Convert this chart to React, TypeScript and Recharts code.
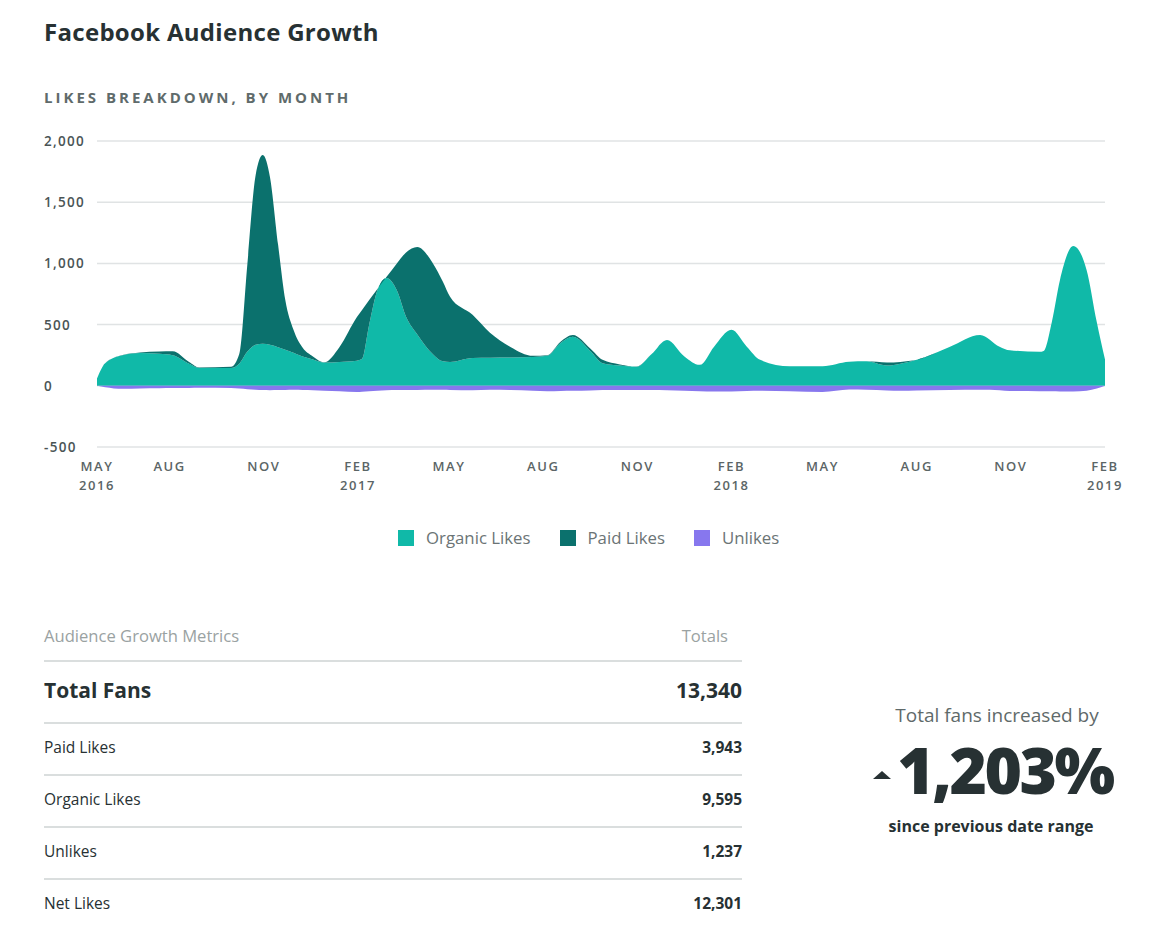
import { Area, AreaChart, CartesianGrid, XAxis, YAxis } from "recharts";

// Sample dates and the three series
const dates = [
  "2016-05-22", "2016-05-30", "2016-06-16", "2016-07-03", "2016-07-22", "2016-08-04",
  "2016-08-20", "2016-08-30", "2016-09-30", "2016-10-08", "2016-10-16", "2016-10-24",
  "2016-10-31", "2016-11-07", "2016-11-15", "2016-11-22", "2016-11-30", "2016-12-09",
  "2016-12-19", "2016-12-30", "2017-01-14", "2017-01-31", "2017-02-05", "2017-02-12",
  "2017-02-20", "2017-03-01", "2017-03-11", "2017-03-20", "2017-03-31", "2017-04-15",
  "2017-04-25", "2017-05-02", "2017-05-24", "2017-06-10", "2017-06-30", "2017-07-22",
  "2017-08-05", "2017-08-18", "2017-08-30", "2017-09-16", "2017-09-28", "2017-10-15",
  "2017-10-31", "2017-11-15", "2017-11-30", "2017-12-17", "2018-01-01", "2018-01-15",
  "2018-02-01", "2018-02-16", "2018-03-01", "2018-03-30", "2018-05-01", "2018-05-27",
  "2018-06-13", "2018-07-03", "2018-07-16", "2018-08-01", "2018-09-02", "2018-10-02",
  "2018-10-21", "2018-10-31", "2018-11-29", "2018-12-03", "2018-12-11", "2018-12-19",
  "2019-01-01", "2019-01-14", "2019-01-24", "2019-02-01",
];

const organicLikes = [
  60, 185, 250, 268, 262, 250,
  180, 145, 145, 180, 280, 335,
  343, 335, 315, 295, 270, 240,
  215, 190, 195, 205, 220, 500,
  780, 880, 780, 565, 420, 260,
  200, 195, 228, 230, 232, 236,
  245, 350, 400, 285, 185, 165,
  155, 260, 375, 240, 171, 320,
  457, 320, 212, 160, 160, 196,
  200, 165, 180, 212, 318, 416,
  320, 290, 278, 285, 520, 865,
  1143, 947, 520, 215,
];

const paidLikes = [
  0, 0, 2, 4, 18, 32,
  15, 5, 10, 80, 720, 1385,
  1543, 1371, 835, 405, 187, 70,
  25, 2, 123, 358, 400, 200,
  10, 10, 220, 525, 715, 744,
  650, 532, 352, 203, 86, 9,
  5, 10, 15, 20, 27, 10,
  3, 0, 0, 0, 0, 0,
  0, 0, 0, 0, 0, 0,
  0, 25, 15, 0, 0, 0,
  0, 0, 0, 0, 0, 0,
  0, 0, 0, 0,
];

const unlikes = [
  0, -12, -25, -22, -20, -18,
  -17, -16, -18, -22, -28, -32,
  -35, -36, -35, -34, -33, -34,
  -36, -40, -45, -50, -48, -44,
  -40, -36, -35, -35, -34, -33,
  -33, -34, -36, -32, -35, -40,
  -45, -42, -40, -38, -35, -34,
  -34, -35, -36, -40, -44, -46,
  -46, -42, -40, -44, -50, -30,
  -32, -38, -40, -38, -34, -32,
  -36, -42, -44, -45, -45, -46,
  -46, -40, -22, 0,
];

const tickDates = [
  "2016-05-22", "2016-08-01", "2016-11-01", "2017-02-01", "2017-05-01", "2017-08-01",
  "2017-11-01", "2018-02-01", "2018-05-01", "2018-08-01", "2018-11-01", "2019-02-01",
];
const tickMonths = ["MAY", "AUG", "NOV", "FEB", "MAY", "AUG", "NOV", "FEB", "MAY", "AUG", "NOV", "FEB"];
const tickYears = ["2016", "", "", "2017", "", "", "", "2018", "", "", "", "2019"];

const yTicks = [-500, 0, 500, 1000, 1500, 2000];

const series = [
  { key: "organic", name: "Organic Likes", color: "#10b9a8" },
  { key: "paid", name: "Paid Likes", color: "#0b716d" },
  { key: "unlikes", name: "Unlikes", color: "#8777ee" },
];

const metricNames = ["Paid Likes", "Organic Likes", "Unlikes", "Net Likes"];
const metricTotals = ["3,943", "9,595", "1,237", "12,301"];

const data = dates.map((d, i) => ({
  t: Date.parse(d),
  organic: organicLikes[i],
  paid: paidLikes[i],
  unlikes: unlikes[i],
}));
const tickValues = tickDates.map((d) => Date.parse(d));

const FONT = "'Open Sans', Lato, sans-serif";
const DARK = "#273133";

if (typeof document !== "undefined") document.body.style.margin = "0";

function XTick(props: any) {
  const { x, y, payload } = props;
  const i = tickValues.indexOf(payload.value);
  return (
    <text
      x={x}
      y={y}
      textAnchor="middle"
      fill="#5b6566"
      fontSize={13}
      fontWeight={600}
      style={{ letterSpacing: 1.6, fontFamily: FONT }}
    >
      <tspan x={x} dy={16}>{tickMonths[i]}</tspan>
      {tickYears[i] && <tspan x={x} dy={19}>{tickYears[i]}</tspan>}
    </text>
  );
}

function YTick(props: any) {
  const { y, payload } = props;
  return (
    <text
      x={44}
      y={y}
      dy={5}
      textAnchor="start"
      fill="#4a5455"
      fontSize={13.5}
      fontWeight={600}
      style={{ letterSpacing: 1.3, fontFamily: FONT }}
    >
      {Number(payload.value).toLocaleString("en-US")}
    </text>
  );
}

export default function App() {
  return (
    <div style={{ position: "relative", width: 1156, height: 936, fontFamily: FONT, color: DARK, background: "#fff" }}>
      <div style={{ position: "absolute", left: 44, top: 15, fontSize: 24, fontWeight: 700, letterSpacing: 0.3 }}>
        Facebook Audience Growth
      </div>
      <div
        style={{
          position: "absolute",
          left: 44,
          top: 87,
          fontSize: 15,
          fontWeight: 700,
          letterSpacing: 3,
          color: "#5f6b6b",
        }}
      >
        LIKES BREAKDOWN, BY MONTH
      </div>

      <div style={{ position: "absolute", left: 0, top: 120 }}>
        <AreaChart width={1156} height={380} data={data} margin={{ top: 21, right: 51, left: 37, bottom: 13 }}>
          <CartesianGrid vertical={false} stroke="#e0e3e4" strokeWidth={1.5} />
          <XAxis
            dataKey="t"
            type="number"
            domain={["dataMin", "dataMax"]}
            ticks={tickValues}
            tick={<XTick />}
            tickLine={false}
            axisLine={false}
            height={40}
            interval={0}
          />
          <YAxis
            domain={[-500, 2000]}
            ticks={yTicks}
            tick={<YTick />}
            tickLine={false}
            axisLine={false}
            width={60}
            interval={0}
          />
          <Area
            type="monotone"
            dataKey="organic"
            stackId="likes"
            stroke="none"
            fill={series[0].color}
            fillOpacity={1}
            isAnimationActive={false}
          />
          <Area
            type="monotone"
            dataKey="paid"
            stackId="likes"
            stroke="none"
            fill={series[1].color}
            fillOpacity={1}
            isAnimationActive={false}
          />
          <Area
            type="monotone"
            dataKey="unlikes"
            stroke="none"
            fill={series[2].color}
            fillOpacity={1}
            isAnimationActive={false}
          />
        </AreaChart>
      </div>

      <div
        style={{
          position: "absolute",
          top: 526,
          left: 398,
          display: "flex",
          gap: 29,
        }}
      >
        {series.map((s) => (
          <div key={s.key} style={{ display: "flex", alignItems: "center", gap: 12, fontSize: 16.8, color: "#6b7475" }}>
            <span style={{ width: 16, height: 16, background: s.color, display: "inline-block" }} />
            {s.name}
          </div>
        ))}
      </div>

      <div style={{ position: "absolute", left: 44, top: 624, width: 698 }}>
        <div
          style={{
            display: "flex",
            justifyContent: "space-between",
            alignItems: "flex-start",
            fontSize: 16.6,
            color: "#9aa2a2",
            paddingRight: 14,
            height: 36,
            borderBottom: "2px solid #dadede",
          }}
        >
          <span>Audience Growth Metrics</span>
          <span>Totals</span>
        </div>
        <div
          style={{
            display: "flex",
            justifyContent: "space-between",
            alignItems: "center",
            fontSize: 21,
            fontWeight: 700,
            height: 56,
            paddingBottom: 4,
            borderBottom: "2px solid #dadede",
          }}
        >
          <span>Total Fans</span>
          <span>13,340</span>
        </div>
        {metricNames.map((n, i) => (
          <div
            key={n}
            style={{
              display: "flex",
              justifyContent: "space-between",
              alignItems: "center",
              fontSize: 15.5,
              height: 46,
              paddingBottom: 4,
              borderBottom: i < metricNames.length - 1 ? "2px solid #dadede" : "none",
            }}
          >
            <span>{n}</span>
            <span style={{ fontWeight: 700 }}>{metricTotals[i]}</span>
          </div>
        ))}
      </div>

      <div style={{ position: "absolute", left: 840, top: 702, width: 300, textAlign: "center" }}>
        <div style={{ fontSize: 19, color: "#5f6a6a", marginLeft: 14 }}>Total fans increased by</div>
        <div style={{ display: "flex", justifyContent: "center", alignItems: "center", marginTop: 6, marginLeft: 6 }}>
          <svg width={20} height={10} style={{ marginRight: 4, marginTop: 10 }}>
            <polygon points="0,9 9,1 18,9" fill={DARK} />
          </svg>
          <span style={{ fontSize: 64, fontWeight: 800, letterSpacing: -2.5, lineHeight: "72px" }}>1,203%</span>
        </div>
        <div style={{ fontSize: 16, fontWeight: 700, marginTop: 9, marginLeft: 2 }}>since previous date range</div>
      </div>
    </div>
  );
}
